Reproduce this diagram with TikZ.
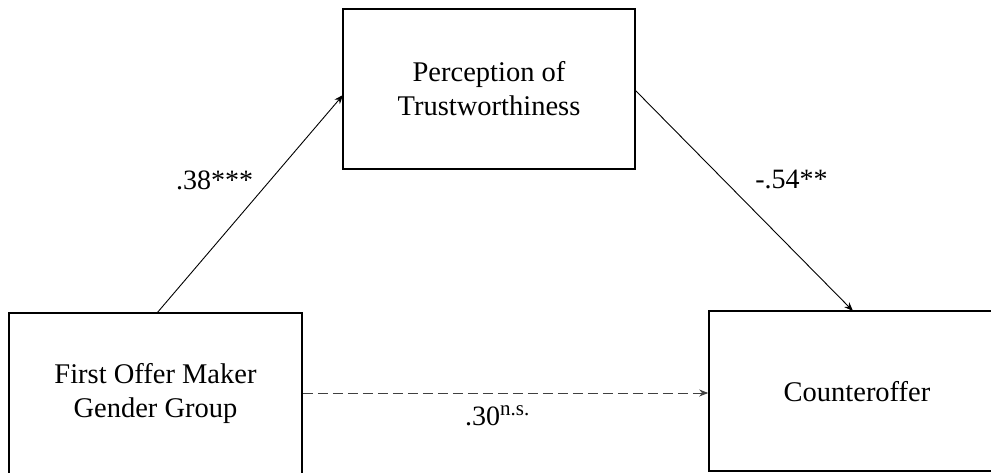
\documentclass[tikz,border=0pt]{standalone}
\usepackage{fontspec}
\setmainfont{Liberation Serif}
\usetikzlibrary{arrows.meta}
\begin{document}
\begin{tikzpicture}[x=1pt,y=-1pt,
  varbox/.style={draw, line width=1.6pt, inner sep=0pt, align=center,
    font=\fontsize{28.5}{34}\selectfont},
  lbl/.style={inner sep=0pt, font=\fontsize{28}{34}\selectfont},
  path/.style={line width=0.9pt, -{Stealth[length=9pt,width=7pt]}}]
\useasboundingbox (0,0) rectangle (991,472);
\node[varbox, minimum width=292pt, minimum height=160pt] (M) at (489,89) {Perception of\\Trustworthiness};
\node[varbox, minimum width=293pt, minimum height=161pt] (X) at (155.5,393.5) {First Offer Maker\\Gender Group};
\node[varbox, minimum width=296pt, minimum height=160pt, text depth=0pt] (Y) at (857,391) {Counteroffer};
\coordinate (a1) at (157,313);
\coordinate (a2) at (343,95);
\coordinate (b1) at (635,90);
\coordinate (b2) at (853,311);
\draw[path] (a1) -- (a2);
\draw[path] (b1) -- (b2);
\draw[path, dash pattern=on 10pt off 5pt, draw=black!75] (X.east |- 0,393) -- (Y.west |- 0,393);
\node[lbl, anchor=base] (l1) at (214.5,189) {.38***};
\node[lbl, anchor=base] (l2) at (791.5,188) {-.54**};
\node[lbl, anchor=base west] (l3) at (465,425) {.30\raisebox{10pt}{\fontsize{21}{24}\selectfont n.s.}};
\end{tikzpicture}
\end{document}
